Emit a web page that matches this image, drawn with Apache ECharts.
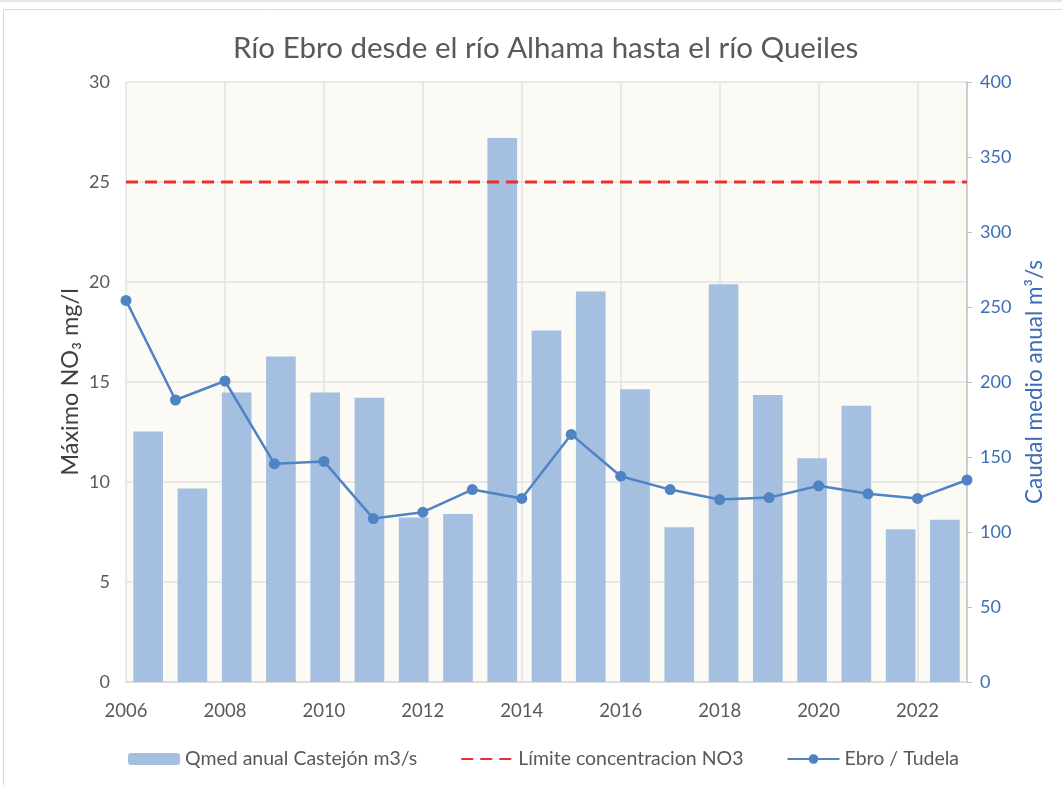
<!DOCTYPE html>
<html>
<head>
<meta charset="utf-8">
<script src="https://cdn.jsdelivr.net/npm/echarts@6/dist/echarts.min.js"></script>
<style>
  html, body { margin: 0; padding: 0; background: #fff; }
  #main { width: 1062px; height: 785px; }
</style>
</head>
<body>
<div id="main"></div>
<script>
// años de la serie Ebro / Tudela (eje principal)
var years = ['2006', '2007', '2008', '2009', '2010', '2011', '2012', '2013', '2014',
  '2015', '2016', '2017', '2018', '2019', '2020', '2021', '2022', '2023'];
// huecos de las barras (eje secundario, 19 columnas)
var barSlots = ['1', '2', '3', '4', '5', '6', '7', '8', '9', '10',
  '11', '12', '13', '14', '15', '16', '17', '18', '19'];
// Qmed anual Castejón m3/s
var qmed = [167, 129, 193, 217, 193, 189.5, 109.7, 112, 362.7, 234.4,
  260.4, 195.1, 103.1, 265.2, 191.3, 149.2, 184.2, 101.8, 108.1];
// Máximo NO3 mg/l, Ebro / Tudela
var tudela = [19.08, 14.1, 15.05, 10.91, 11.03, 8.17, 8.49, 9.62, 9.18,
  12.38, 10.29, 9.62, 9.12, 9.22, 9.81, 9.41, 9.18, 10.1];
// límite de concentración
var limite = years.map(function () { return 25; });

var FONT = 'Lato';
var myChart = echarts.init(document.getElementById('main'));

var option = {
  backgroundColor: '#ffffff',
  textStyle: { fontFamily: FONT },
  graphic: [
    { type: 'rect', shape: { x: 0, y: 0, width: 1062, height: 2 }, style: { fill: '#e6e6e6' }, silent: true },
    { type: 'rect', shape: { x: 3.5, y: 9.5, width: 1080, height: 800 }, style: { fill: 'none', stroke: '#d9d9d9', lineWidth: 1 }, silent: true }
  ],
  title: {
    text: 'Río Ebro desde el río Alhama hasta el río Queiles',
    left: 228,
    top: 28,
    textStyle: { fontFamily: FONT, fontSize: 29.5, fontWeight: 'normal', color: '#595959' }
  },
  legend: {
    bottom: 11,
    left: 123,
    itemWidth: 52,
    itemHeight: 12,
    itemGap: 43,
    textStyle: { fontFamily: FONT, fontSize: 19.5, color: '#595959' },
    data: [
      'Qmed anual Castejón m3/s',
      { name: 'Límite concentracion NO3', itemStyle: { opacity: 0 } },
      'Ebro / Tudela'
    ]
  },
  grid: {
    left: 126, right: 95, top: 82, bottom: 103,
    show: true, backgroundColor: '#fbfaf5', borderWidth: 0
  },
  xAxis: [
    {
      type: 'category',
      data: years,
      boundaryGap: false,
      axisLine: { lineStyle: { color: '#d9d9d9', width: 1.5 } },
      axisTick: { show: false },
      axisLabel: { interval: 1, color: '#595959', fontSize: 18.5, margin: 20 },
      splitLine: { show: true, interval: 1, lineStyle: { color: '#e2e2e2', width: 1.5 } }
    },
    {
      type: 'category',
      data: barSlots,
      show: false
    }
  ],
  yAxis: [
    {
      type: 'value',
      min: 0, max: 30, interval: 5,
      name: 'Máximo NO₃ mg/l',
      nameLocation: 'middle',
      nameGap: 44,
      nameMoveOverlap: false,
      nameTextStyle: { fontFamily: FONT, fontSize: 23.5, color: '#404040' },
      axisLine: { show: false },
      axisTick: { show: false },
      axisLabel: { color: '#595959', fontSize: 18, margin: 16 },
      splitLine: { lineStyle: { color: '#e2e2e2', width: 1.5 } }
    },
    {
      type: 'value',
      min: 0, max: 400, interval: 50,
      position: 'right',
      name: 'Caudal medio anual m³/s',
      nameLocation: 'middle',
      nameGap: 56,
      nameRotate: 90,
      nameTextStyle: { fontFamily: FONT, fontSize: 22.5, color: '#3d6db5' },
      axisLine: { show: true, lineStyle: { color: '#bfbfbf', width: 1.5 } },
      axisTick: { show: true, length: 5, lineStyle: { color: '#bfbfbf' } },
      axisLabel: { color: '#3d6db5', fontSize: 18, margin: 13 },
      splitLine: { show: false }
    }
  ],
  series: [
    {
      name: 'Qmed anual Castejón m3/s',
      type: 'bar',
      xAxisIndex: 1,
      yAxisIndex: 1,
      data: qmed,
      barCategoryGap: '33%',
      itemStyle: { color: '#a4bfdf' },
      z: 1
    },
    {
      name: 'Límite concentracion NO3',
      type: 'line',
      xAxisIndex: 0,
      yAxisIndex: 0,
      data: limite,
      symbol: 'none',
      lineStyle: { color: '#ee2d2d', width: 3, type: [12, 7] },
      itemStyle: { color: '#ee2d2d' },
      z: 3
    },
    {
      name: 'Ebro / Tudela',
      type: 'line',
      xAxisIndex: 0,
      yAxisIndex: 0,
      data: tudela,
      symbol: 'circle',
      symbolSize: 11,
      lineStyle: { color: '#5083c4', width: 2.5 },
      itemStyle: { color: '#5083c4' },
      z: 4
    }
  ]
};

myChart.setOption(option);
</script>
</body>
</html>
